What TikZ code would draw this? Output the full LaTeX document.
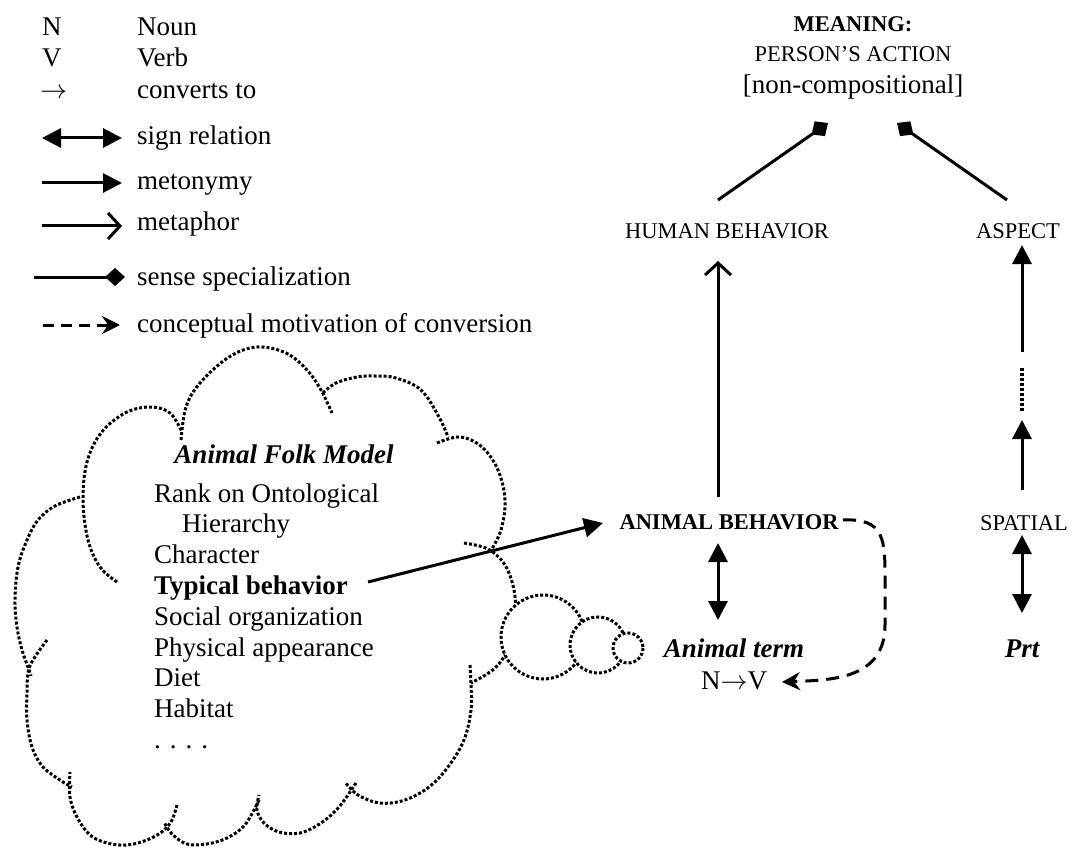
\RequirePackage{fix-cm}
\documentclass[tikz,border=0pt]{standalone}
\usepackage{fontspec}
\setmainfont{Liberation Serif}
\usetikzlibrary{arrows.meta,calc}
\newcommand{\convarrow}{\ensuremath{\rightarrow}}
\begin{document}
\begin{tikzpicture}[x=1pt,y=-1pt,
  main/.style={font=\fontsize{27}{32}\selectfont, inner sep=0pt},
  capsf/.style={font=\fontsize{22.5}{27}\selectfont, inner sep=0pt},
  conn/.style={line width=3pt},
  signrel/.style={conn, {Triangle[length=19pt,width=19pt]}-{Triangle[length=19pt,width=19pt]}},
  meto/.style={conn, -{Triangle[length=19pt,width=19pt]}},
  meta/.style={conn, -{Straight Barb[length=12pt,width=26pt,line width=3pt]}},
  spec/.style={conn, -{Diamond[length=20pt,width=18pt]}},
  concm/.style={conn, dash pattern=on 11pt off 7pt, -{Stealth[length=18pt,width=18pt,inset=6pt]}},
  cloudline/.style={line width=3pt, dash pattern=on 3pt off 2pt},
  dotseg/.style={line width=3.5pt, dash pattern=on 3pt off 2pt},
]
\useasboundingbox (0,0) rectangle (1072,848);

% ---------- legend ----------
\node[main, anchor=base west] (lN) at (42,36) {N};
\node[main, anchor=base west] (lNoun) at (137,36) {Noun};
\node[main, anchor=base west] (lV) at (42,67) {V};
\node[main, anchor=base west] (lVerb) at (137,67) {Verb};
\node[main, anchor=base west] (lArr) at (40,99) {\convarrow};
\node[main, anchor=base west] (lConv) at (137,99) {converts to};
\node[main, anchor=base west] (lSign) at (137,145) {sign relation};
\node[main, anchor=base west] (lMeto) at (137,190) {metonymy};
\node[main, anchor=base west] (lMeta) at (137,231) {metaphor};
\node[main, anchor=base west] (lSpec) at (137,285) {sense specialization};
\node[main, anchor=base west] (lConc) at (137,332) {conceptual motivation of conversion};
\coordinate (sg1) at (42,138);  \coordinate (sg2) at (122,138);
\coordinate (mt1) at (42,183);  \coordinate (mt2) at (122,183);
\coordinate (mp1) at (42,226);  \coordinate (mp2) at (122,226);
\coordinate (sp1) at (34,277);  \coordinate (sp2) at (125,277);
\coordinate (cm1) at (43,325);  \coordinate (cm2) at (120,325);
\draw[signrel] (sg1) -- (sg2);
\draw[meto] (mt1) -- (mt2);
\draw[meta] (mp1) -- (mp2);
\draw[spec] (sp1) -- (sp2);
\draw[concm] (cm1) -- (cm2);

% ---------- cloud ----------
\draw[cloudline] plot[smooth,tension=0.6] coordinates {(117,582) (100,567) (88,540) (83,500) (87,462) (101,433) (125,413) (150,407) (170,413) (182,432)};
\draw[cloudline] plot[smooth,tension=0.6] coordinates {(181,440) (186,407) (200,383) (229,357) (257,347) (286,353) (307,370) (321,390) (332,413)};
\draw[cloudline] plot[smooth,tension=0.6] coordinates {(323,393) (336,383) (357,377) (375,376) (396,378) (421,390) (439,417) (448,437)};
\draw[cloudline] plot[smooth,tension=0.6] coordinates {(437,443) (460,437) (482,447) (498,470) (505,500) (501,530) (490,552)};
\draw[cloudline] plot[smooth,tension=0.6] coordinates {(464,543) (488,549) (505,565) (514,590) (515,615) (510,645) (495,668) (471,683)};
\draw[cloudline] plot[smooth,tension=0.6] coordinates {(470,665) (471,685) (471,710) (464,740) (448,767) (429,787) (405,800) (380,803) (358,795) (345,782)};
\draw[cloudline] plot[smooth,tension=0.6] coordinates {(356,783) (339,807) (321,823) (300,833) (279,832) (264,823) (257,810) (259,795)};
\draw[cloudline] plot[smooth,tension=0.6] coordinates {(259,800) (253,812) (243,827) (227,838) (207,844) (187,844) (172,834) (164,822)};
\draw[cloudline] plot[smooth,tension=0.6] coordinates {(177,805) (172,820) (163,831) (147,840) (127,845) (107,843) (90,835) (77,817) (70,797) (70,772)};
\draw[cloudline] plot[smooth,tension=0.6] coordinates {(47,640) (33,660) (28,673) (27,693) (27,720) (32,747) (43,767) (63,782) (72,787)};
\draw[cloudline] plot[smooth,tension=0.6] coordinates {(80,497) (55,506) (38,520) (27,540) (18,567) (15,600) (17,627) (22,650) (28,667) (31,676)};
% thought bubbles
\draw[cloudline, fill=white] (543,637) circle[radius=42];
\draw[cloudline, fill=white] (598,645) circle[radius=28];
\draw[cloudline, fill=white] (628,648) circle[radius=15];

% ---------- cloud text ----------
\node[main, anchor=base, font=\fontsize{27}{32}\selectfont\bfseries\itshape] (afm) at (284,463) {Animal Folk Model};
\node[main, anchor=base west] (rank) at (154,502) {Rank on Ontological};
\node[main, anchor=base west] (hier) at (182,532) {Hierarchy};
\node[main, anchor=base west] (char) at (154,563) {Character};
\node[main, anchor=base west, font=\fontsize{27}{32}\selectfont\bfseries] (tb) at (154,594) {Typical behavior};
\node[main, anchor=base west] (soc) at (154,625) {Social organization};
\node[main, anchor=base west] (phys) at (154,656) {Physical appearance};
\node[main, anchor=base west] (diet) at (154,686) {Diet};
\node[main, anchor=base west] (hab) at (154,717) {Habitat};
\node[main, anchor=base west] (dots) at (154,748) {.\,\,.\,\,.\,\,.};

% ---------- right part ----------
\node[capsf, anchor=base, font=\fontsize{22.5}{27}\selectfont\bfseries] (m1) at (853,32) {MEANING:};
\node[capsf, anchor=base] (m2) at (853,62) {PERSON’S ACTION};
\node[main, anchor=base] (m3) at (853,94) {[non-compositional]};
\node[capsf, anchor=base] (hb) at (727,238) {HUMAN BEHAVIOR};
\node[capsf, anchor=base] (asp) at (1018,238) {ASPECT};
\node[capsf, anchor=base, font=\fontsize{22.5}{27}\selectfont\bfseries] (ab) at (729,529) {ANIMAL BEHAVIOR};
\node[capsf, anchor=base] (spa) at (1024,530) {SPATIAL};
\node[main, anchor=base, font=\fontsize{27}{32}\selectfont\bfseries\itshape] (at) at (734,657) {Animal term};
\node[main, anchor=base] (nv) at (734,689) {N\convarrow V};
\node[main, anchor=base, font=\fontsize{27}{32}\selectfont\bfseries\itshape] (prt) at (1022,657) {Prt};

% connector end points
\coordinate (hbL) at (718,200);  \coordinate (mL) at (828,123);
\coordinate (aspR) at (1007,200); \coordinate (mR) at (897,123);
\coordinate (abTop) at (718,497); \coordinate (hbBot) at (718,261);
\coordinate (abBot) at (718,543); \coordinate (atTop) at (718,620);
\coordinate (r1b) at (1022,352); \coordinate (r1t) at (1022,245);
\coordinate (r2b) at (1022,368); \coordinate (r2t) at (1022,412);
\coordinate (r3b) at (1022,490); \coordinate (r3t) at (1022,420);
\coordinate (r4t) at (1022,535); \coordinate (r4b) at (1022,613);
\coordinate (mtS) at (368,582);  \coordinate (mtE) at (603,523);
\coordinate (dS) at (843,520);   \coordinate (dE) at (782,682);

\draw[spec] (hbL) -- (mL);
\draw[spec] (aspR) -- (mR);
\draw[meta] (abTop) -- (hbBot);
\draw[signrel] (abBot) -- (atTop);
\draw[meto] (r1b) -- (r1t);
\draw[dotseg] (r2b) -- (r2t);
\draw[meto] (r3b) -- (r3t);
\draw[signrel] (r4t) -- (r4b);
\draw[meto] (mtS) -- (mtE);
\draw[concm, dash pattern=on 13pt off 8pt] (dS) .. controls (885,518) and (885,540) .. (885,580) -- (885,625) .. controls (885,680) and (830,680) .. (dE);
\end{tikzpicture}
\end{document}
